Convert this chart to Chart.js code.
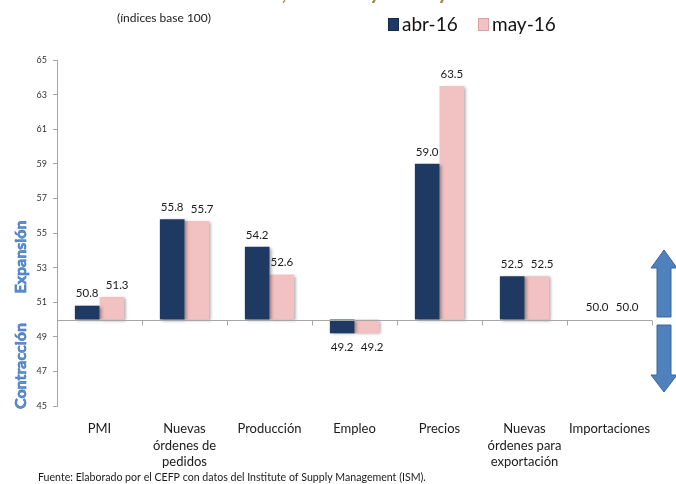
<!DOCTYPE html>
<html>
<head>
<meta charset="utf-8">
<script src="https://cdn.jsdelivr.net/npm/chart.js@4.4.1/dist/chart.umd.min.js"></script>
<style>
  html, body { margin: 0; padding: 0; background: #ffffff; }
  #wrap { width: 676px; height: 484px; position: relative; }
</style>
</head>
<body>
<div id="wrap"><canvas id="c" width="676" height="484"></canvas></div>
<script>
const categories = [
  ["PMI"],
  ["Nuevas", "órdenes de", "pedidos"],
  ["Producción"],
  ["Empleo"],
  ["Precios"],
  ["Nuevas", "órdenes para", "exportación"],
  ["Importaciones"]
];
const seriesNames = ["abr-16", "may-16"];
const abr16 = [50.8, 55.8, 54.2, 49.2, 59.0, 52.5, 50.0];
const may16 = [51.3, 55.7, 52.6, 49.2, 63.5, 52.5, 50.0];
const baseLine = 50;
const yMin = 45, yMax = 65, yStep = 2;

const FONT = "Lato, 'Liberation Sans', sans-serif";
const NAVY = "#1F3A62";
const PINK = "#F2C1C1";

const decorPlugin = {
  id: "decor",
  beforeDatasetsDraw(chart) {
    const ctx = chart.ctx;
    ctx.save();
    ctx.shadowColor = "rgba(0,0,0,0.35)";
    ctx.shadowBlur = 3;
    ctx.shadowOffsetX = 2;
    ctx.shadowOffsetY = 1;
  },
  afterDatasetsDraw(chart) {
    const ctx = chart.ctx;
    ctx.restore();
    const ca = chart.chartArea;
    const yS = chart.scales.y;
    const y50 = Math.round(yS.getPixelForValue(baseLine)) + 0.5;
    ctx.save();
    ctx.strokeStyle = "#A6A6A6";
    ctx.lineWidth = 1;
    ctx.beginPath();
    ctx.moveTo(ca.left, y50);
    ctx.lineTo(ca.right, y50);
    const n = categories.length;
    const w = (ca.right - ca.left) / n;
    for (let i = 1; i <= n; i++) {
      const x = Math.round(ca.left + i * w) + 0.5;
      ctx.moveTo(x, y50);
      ctx.lineTo(x, y50 + 5);
    }
    ctx.stroke();
    ctx.restore();

    // value labels with simple collision avoidance
    ctx.save();
    ctx.font = "11.5px " + FONT;
    ctx.fillStyle = "#1a1a1a";
    ctx.textAlign = "center";
    ctx.textBaseline = "middle";
    const vals = [abr16, may16];
    const m0 = chart.getDatasetMeta(0), m1 = chart.getDatasetMeta(1);
    for (let j = 0; j < categories.length; j++) {
      const pos = [m0, m1].map((meta, di) => {
        const bar = meta.data[j];
        const v = vals[di][j];
        const top = Math.min(bar.y, bar.base);
        const bot = Math.max(bar.y, bar.base);
        const y = v >= baseLine ? top - 12 : bot + 14;
        return { x: bar.x, y: y, t: v.toFixed(1) };
      });
      if (Math.abs(pos[0].y - pos[1].y) < 14 && pos[1].x - pos[0].x < 30) {
        pos[1].x = pos[0].x + 30;
      }
      pos.forEach(p => ctx.fillText(p.t, p.x, p.y));
    }
    ctx.restore();
  },
  afterDraw(chart) {
    const ctx = chart.ctx;
    ctx.save();
    // cut-off title descenders
    ctx.fillStyle = "#9E8E55";
    ctx.font = "bold 22px " + FONT;
    ctx.textAlign = "center";
    ctx.textBaseline = "alphabetic";
    ctx.fillText(",", 284, 0);
    ctx.fillText("y", 375, -1);
    ctx.fillText("y", 443, -1);

    // subtitle
    ctx.fillStyle = "#1a1a1a";
    ctx.font = "12px " + FONT;
    ctx.textAlign = "left";
    ctx.textBaseline = "middle";
    ctx.fillText("(índices base 100)", 117, 18);

    // legend
    const colors = [NAVY, PINK];
    const lx = [388, 478];
    ctx.font = "19px " + FONT;
    ctx.textBaseline = "middle";
    seriesNames.forEach((name, i) => {
      ctx.fillStyle = colors[i];
      ctx.fillRect(lx[i], 18, 11, 13);
      ctx.strokeStyle = i === 0 ? "#16294A" : "#D9A3A3";
      ctx.strokeRect(lx[i] + 0.5, 18.5, 10, 12);
      ctx.fillStyle = "#111";
      ctx.fillText(name, lx[i] + 14, 25);
    });

    // rotated side labels
    ctx.fillStyle = "#5B8FD6";
    ctx.strokeStyle = "#3F72B8";
    ctx.lineWidth = 0.6;
    ctx.font = "bold 16px " + FONT;
    ctx.textAlign = "center";
    ctx.textBaseline = "middle";
    ctx.save();
    ctx.translate(21, 257);
    ctx.rotate(-Math.PI / 2);
    ctx.fillText("Expansión", 0, 0);
    ctx.strokeText("Expansión", 0, 0);
    ctx.restore();
    ctx.save();
    ctx.translate(21, 366);
    ctx.rotate(-Math.PI / 2);
    ctx.fillText("Contracción", 0, 0);
    ctx.strokeText("Contracción", 0, 0);
    ctx.restore();

    // arrows on right
    const cx = 664;
    ctx.fillStyle = "#4F81BD";
    ctx.strokeStyle = "#3A679E";
    ctx.lineWidth = 1;
    ctx.beginPath();
    ctx.moveTo(cx, 250);
    ctx.lineTo(cx + 13, 268);
    ctx.lineTo(cx + 7, 268);
    ctx.lineTo(cx + 7, 317);
    ctx.lineTo(cx - 7, 317);
    ctx.lineTo(cx - 7, 268);
    ctx.lineTo(cx - 13, 268);
    ctx.closePath();
    ctx.fill();
    ctx.stroke();
    ctx.beginPath();
    ctx.moveTo(cx, 392);
    ctx.lineTo(cx + 13, 375);
    ctx.lineTo(cx + 7, 375);
    ctx.lineTo(cx + 7, 325);
    ctx.lineTo(cx - 7, 325);
    ctx.lineTo(cx - 7, 375);
    ctx.lineTo(cx - 13, 375);
    ctx.closePath();
    ctx.fill();
    ctx.stroke();

    // footer
    ctx.fillStyle = "#1a1a1a";
    ctx.font = "10.6px " + FONT;
    ctx.textAlign = "left";
    ctx.textBaseline = "middle";
    ctx.fillText("Fuente: Elaborado por el CEFP con datos del Institute of Supply Management (ISM).", 38, 478);
    ctx.restore();
  }
};

new Chart(document.getElementById("c"), {
  type: "bar",
  data: {
    labels: categories,
    datasets: [
      {
        label: seriesNames[0],
        data: abr16.map(v => [baseLine, v]),
        backgroundColor: NAVY,
        borderWidth: 0
      },
      {
        label: seriesNames[1],
        data: may16.map(v => [baseLine, v]),
        backgroundColor: PINK,
        borderWidth: 0
      }
    ]
  },
  options: {
    responsive: false,
    animation: false,
    devicePixelRatio: 1,
    layout: { padding: { top: 60, right: 24, left: 0, bottom: 0 } },
    datasets: { bar: { categoryPercentage: 0.58, barPercentage: 1.0 } },
    plugins: {
      legend: { display: false },
      tooltip: { enabled: false },
      title: { display: false }
    },
    scales: {
      x: {
        grid: { display: false },
        border: { display: false },
        ticks: {
          color: "#1a1a1a",
          font: { family: FONT, size: 13, lineHeight: 1.3 },
          padding: 6,
          maxRotation: 0,
          autoSkip: false
        },
        afterFit(scale) { scale.height = 78; }
      },
      y: {
        min: yMin,
        max: yMax,
        ticks: {
          stepSize: yStep,
          color: "#333",
          font: { family: FONT, size: 9 },
          padding: 6
        },
        grid: {
          display: true,
          drawOnChartArea: false,
          drawTicks: true,
          tickLength: 4,
          color: "#A6A6A6"
        },
        border: { display: true, color: "#A6A6A6" },
        afterFit(scale) { scale.width = 57; }
      }
    }
  },
  plugins: [decorPlugin]
});
</script>
</body>
</html>
